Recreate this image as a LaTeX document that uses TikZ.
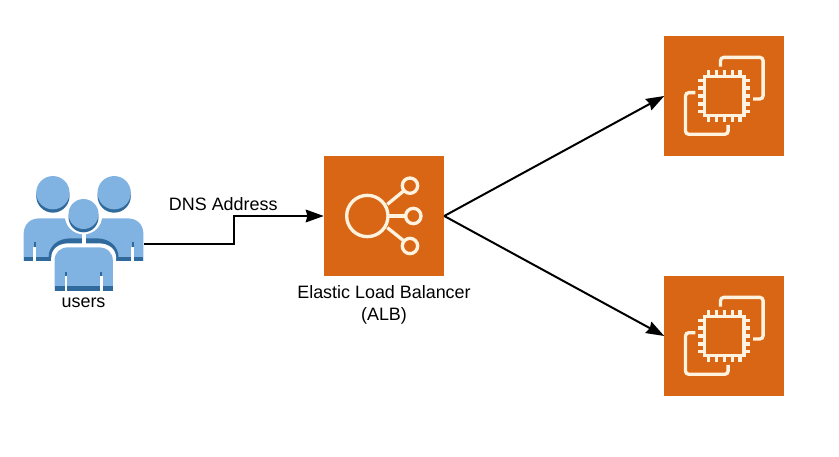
\documentclass[tikz,border=0pt]{standalone}
\usepackage{fontspec}
\setmainfont{Liberation Sans}
\usetikzlibrary{arrows.meta, positioning}
\definecolor{awsOrange} {RGB}{216, 102,  20}
\definecolor{iconCream} {RGB}{255, 243, 224}
\definecolor{userLight} {RGB}{128, 179, 226}
\definecolor{userDark}  {RGB}{ 48, 106, 156}
\definecolor{lineBlack} {RGB}{  0,   0,   0}
\tikzset{
  svc/.style   = {rectangle, fill=awsOrange, inner sep=0pt, minimum size=3.6cm},
  arr/.style   = {-{Stealth[length=0.54cm, width=0.38cm, inset=0.05cm]}, line width=0.06cm, color=lineBlack},
  lbl/.style   = {font=\fontsize{15.3}{18.7}\selectfont, align=center, inner sep=0pt},
  icon/.style  = {x=0.01cm, y=-0.01cm},
  glyph/.style = {draw=iconCream, line width=0.1cm},
}

\begin{document}
\begin{tikzpicture}

\useasboundingbox (0,0) rectangle (25.17,13.68);

% ---- Services ---------------------------------------------------------------
\node[svc] (elb) at (11.52,7.2) {};
\node[svc, right=6.6cm of elb, yshift=3.6cm] (ec2a) {};
\node[svc, right=6.6cm of elb, yshift=-3.6cm] (ec2b) {};

% ---- Users ------------------------------------------------------------------
\node[inner sep=0pt, minimum width=3.6cm, minimum height=4.14cm,
      left=5.4cm of elb, yshift=-0.84cm] (usericon) {};

\begin{scope}[icon, shift=(usericon.center)]
  \foreach \side in {-1,1} {
    \begin{scope}[xscale=\side]
      \fill[userDark] (92,-144) circle[radius=50];
      \fill[userLight] (92,-154) circle[radius=50];
      \fill[userLight] (180,51) -- (180,-27) .. controls (180,-60) and (160,-77) .. (132,-77)
                       -- (0,-77) -- (0,51) -- cycle;
      \fill[userDark] (97,38) rectangle (180,51);
      \fill[userDark] (144,-7) rectangle (150,8);
      \fill[white] (143,8) rectangle (151,51);
    \end{scope}
  }
  % halo of the front person
  \fill[userDark] (-105,51) -- (-105,40) .. controls (-105,5) and (-75,-17) .. (-40,-17)
                  -- (40,-17) .. controls (75,-17) and (105,5) .. (105,40) -- (105,51) -- cycle;
  \fill[white] (-97,60) -- (-97,42) .. controls (-97,15) and (-75,-2) .. (-45,-2)
               -- (45,-2) .. controls (75,-2) and (98,15) .. (98,42) -- (98,60) -- cycle;
  \fill[white] (-6,-60) rectangle (6,10);
  \fill[white] (0,-85) circle[radius=56];
  % front person
  \fill[userDark] (0,-80) circle[radius=45];
  \fill[userLight] (0,-90) circle[radius=45];
  \fill[userLight] (-87,140) -- (-87,50) .. controls (-87,25) and (-70,10) .. (-45,10)
                   -- (45,10) .. controls (70,10) and (88,25) .. (88,50) -- (88,140) -- cycle;
  \fill[userDark] (-87,126) rectangle (88,140);
  \foreach \side in {-53,53} {
    \fill[userDark] (\side-3,83) rectangle (\side+3,96);
    \fill[white] (\side-4,96) rectangle (\side+4,140);
  }
\end{scope}

\node[lbl, anchor=south] (userslbl) at ([yshift=0.17cm]usericon.south) {users};

% ---- Load balancer glyph ----------------------------------------------------
\begin{scope}[icon, shift=(elb.center)]
  \draw[glyph] (-50,0) circle[radius=62];
  \draw[glyph] (78,-91) circle[radius=23];
  \draw[glyph] (88,0) circle[radius=23];
  \draw[glyph] (78,90) circle[radius=23];
  \draw[glyph] (12,0) -- (65,0);
  \draw[glyph] (10,-35) -- (60,-76);
  \draw[glyph] (10,35) -- (60,75);
\end{scope}

% ---- Server glyphs ----------------------------------------------------------
\foreach \srv in {ec2a,ec2b} {
  \begin{scope}[icon, shift=(\srv.center)]
    \draw[glyph] (-59,-59) rectangle (59,59);
    \foreach \p in {-47,-24,0,24,47} {
      \draw[glyph] (\p,-59) -- (\p,-78);
      \draw[glyph] (\p,59) -- (\p,78);
      \draw[glyph] (-59,\p) -- (-78,\p);
      \draw[glyph] (59,\p) -- (78,\p);
    }
    \draw[glyph, rounded corners=0.1cm] (-12,-88) -- (-12,-116) -- (116,-116) -- (116,9) -- (86,9);
    \draw[glyph, rounded corners=0.1cm] (-87,-10) -- (-117,-10) -- (-117,115) -- (11,115) -- (11,87);
  \end{scope}
}

% ---- Labels -----------------------------------------------------------------
\node[lbl, below=0.27cm of elb] (elblbl) {Elastic Load Balancer\\(ALB)};
\node[lbl, left=1.38cm of elb, yshift=0.36cm] (dnslbl) {DNS Address};

% ---- Arrows -----------------------------------------------------------------
\draw[arr] (usericon.east) -- ++(2.7,0) |- (elb.west);
\draw[arr] (elb.east) -- (ec2a.west);
\draw[arr] (elb.east) -- (ec2b.west);

\end{tikzpicture}
\end{document}
